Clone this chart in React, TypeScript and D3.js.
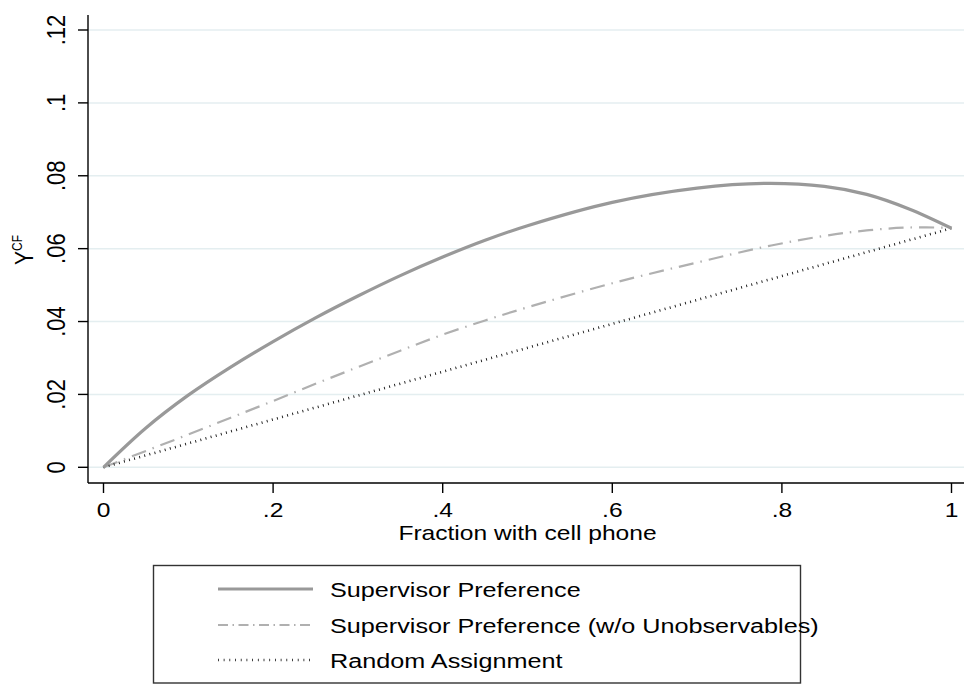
import React from "react";
import * as d3 from "d3";

// fraction with cell phone (x) and Y^CF values
const fraction = [0, 0.05, 0.1, 0.15, 0.2, 0.25, 0.3, 0.35, 0.4, 0.45, 0.5, 0.6, 0.7, 0.78, 0.85, 0.9, 0.95, 1];
const supervisorPref = [0, 0.0108, 0.0198, 0.0275, 0.0345, 0.041, 0.047, 0.0526, 0.0577, 0.0623, 0.0663, 0.0727, 0.0766, 0.0779, 0.0771, 0.0749, 0.0709, 0.0656];
const supervisorNoUnobs = [0, 0.0045, 0.009, 0.0136, 0.0182, 0.0229, 0.0275, 0.032, 0.0364, 0.0403, 0.0439, 0.0505, 0.0562, 0.0605, 0.0635, 0.065, 0.0658, 0.0657];
const randomFraction = [0, 1];
const randomAssign = [0, 0.0656];

const xTicks = [0, 0.2, 0.4, 0.6, 0.8, 1];
const yTicks = [0, 0.02, 0.04, 0.06, 0.08, 0.1, 0.12];
const legendLabels = [
    "Supervisor Preference",
    "Supervisor Preference (w/o Unobservables)",
    "Random Assignment",
];

const FONT = "'Liberation Sans', Arial, Helvetica, sans-serif";
const SX = 1.2; // the original output is stretched sideways

function fmt(v: number) {
    if (v === 0) return "0";
    if (v === 1) return "1";
    return String(+v.toFixed(2)).replace(/^0/, "");
}

export default function App() {
    const ref = React.useRef<SVGSVGElement>(null);

    React.useEffect(() => {
        const svg = d3.select(ref.current);
        svg.selectAll("*").remove();

        const left = 88, right = 964, top = 15, bottom = 483;

        const x = d3.scaleLinear().domain([0, 1]).range([103.5, 951.5]);
        const y = d3.scaleLinear().domain([0, 0.12]).range([467.3, 30]);

        // gridlines
        svg.append("g")
            .selectAll("line")
            .data(yTicks)
            .join("line")
            .attr("x1", left)
            .attr("x2", right)
            .attr("y1", (d) => y(d))
            .attr("y2", (d) => y(d))
            .attr("stroke", "#e4eef0")
            .attr("stroke-width", 1.5);

        // axes
        svg.append("line")
            .attr("x1", left).attr("x2", left)
            .attr("y1", top).attr("y2", bottom)
            .attr("stroke", "#000").attr("stroke-width", 1.4);
        svg.append("line")
            .attr("x1", left).attr("x2", right)
            .attr("y1", bottom).attr("y2", bottom)
            .attr("stroke", "#000").attr("stroke-width", 1.4);

        const yTick = svg.append("g").selectAll("g").data(yTicks).join("g");
        yTick.append("line")
            .attr("x1", left - 10).attr("x2", left)
            .attr("y1", (d) => y(d)).attr("y2", (d) => y(d))
            .attr("stroke", "#000").attr("stroke-width", 1.4);
        yTick.append("text")
            .attr("transform", (d) => `translate(65,${y(d)}) scale(${SX},1) rotate(-90)`)
            .attr("text-anchor", "middle")
            .attr("font-family", FONT)
            .attr("font-size", 22)
            .text((d) => fmt(d));

        const xTick = svg.append("g").selectAll("g").data(xTicks).join("g");
        xTick.append("line")
            .attr("x1", (d) => x(d)).attr("x2", (d) => x(d))
            .attr("y1", bottom).attr("y2", bottom + 10)
            .attr("stroke", "#000").attr("stroke-width", 1.4);
        xTick.append("text")
            .attr("transform", (d) => `translate(${x(d)},516.5) scale(${SX},1)`)
            .attr("text-anchor", "middle")
            .attr("font-family", FONT)
            .attr("font-size", 20.5)
            .text((d) => fmt(d));

        svg.append("text")
            .attr("transform", `translate(${x(0.5)},539.5) scale(${SX},1)`)
            .attr("text-anchor", "middle")
            .attr("font-family", FONT)
            .attr("font-size", 20.5)
            .text("Fraction with cell phone");

        const yTitle = svg.append("text")
            .attr("transform", `translate(33,250) scale(${SX},1) rotate(-90)`)
            .attr("text-anchor", "middle")
            .attr("font-family", FONT)
            .attr("font-size", 21);
        yTitle.append("tspan").text("Y");
        yTitle.append("tspan").attr("dy", -9).attr("font-size", 12).text("CF");

        // series
        const line = d3
            .line<number>()
            .x((d, i) => x(fraction[i]))
            .y((d) => y(d))
            .curve(d3.curveCatmullRom.alpha(0.5));

        svg.append("path")
            .datum(supervisorNoUnobs)
            .attr("fill", "none")
            .attr("stroke", "#b0b0b0")
            .attr("stroke-width", 2.2)
            .attr("stroke-dasharray", "15,7,1.5,7")
            .attr("d", line);

        svg.append("path")
            .datum(randomAssign)
            .attr("fill", "none")
            .attr("stroke", "#111")
            .attr("stroke-width", 2.6)
            .attr("stroke-dasharray", "0.9,4.4")
            .attr(
                "d",
                d3.line<number>()
                    .x((d, i) => x(randomFraction[i]))
                    .y((d) => y(d))
            );

        svg.append("path")
            .datum(supervisorPref)
            .attr("fill", "none")
            .attr("stroke", "#999")
            .attr("stroke-width", 3.2)
            .attr("d", line);

        // legend
        svg.append("rect")
            .attr("x", 153.5).attr("y", 565.5)
            .attr("width", 647).attr("height", 117.5)
            .attr("fill", "#fff")
            .attr("stroke", "#333").attr("stroke-width", 1.4);

        const styles = [
            { stroke: "#999", width: 3.2, dash: null },
            { stroke: "#b0b0b0", width: 2.2, dash: "10,4.5,1.5,4.5" },
            { stroke: "#111", width: 2.4, dash: "0.8,4.9" },
        ];
        const rowY = [589, 625, 660];

        const item = svg.append("g").selectAll("g").data(legendLabels).join("g");
        item.append("line")
            .attr("x1", 218).attr("x2", 313)
            .attr("y1", (d, i) => rowY[i]).attr("y2", (d, i) => rowY[i])
            .attr("stroke", (d, i) => styles[i].stroke)
            .attr("stroke-width", (d, i) => styles[i].width)
            .attr("stroke-dasharray", (d, i) => styles[i].dash);
        item.append("text")
            .attr("transform", (d, i) => `translate(330,${rowY[i] + 7.5}) scale(${SX},1)`)
            .attr("font-family", FONT)
            .attr("font-size", 21)
            .text((d) => d);
    }, []);

    return (
        <svg
            ref={ref}
            width={964}
            height={684}
            style={{ position: "absolute", left: 0, top: 0, background: "#fff" }}
        />
    );
}
